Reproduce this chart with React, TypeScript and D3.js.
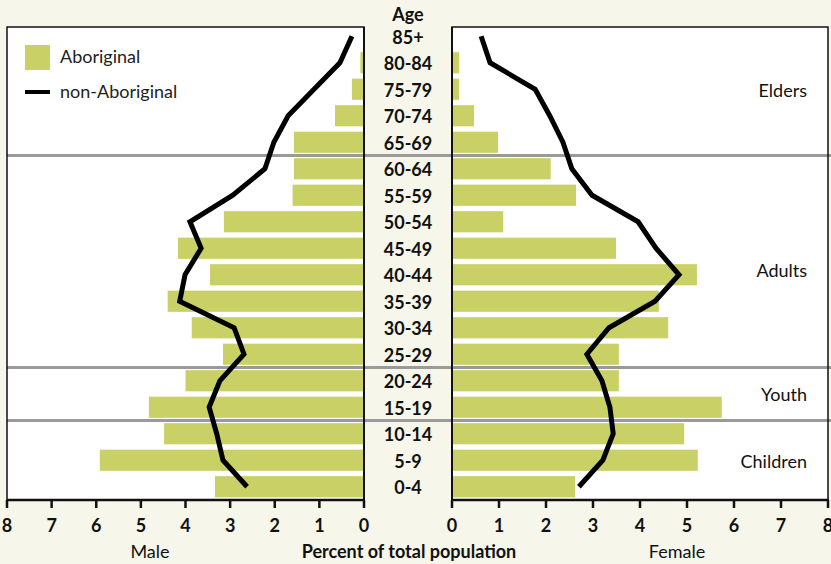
import * as d3 from 'd3'

const AGES = ['85+', '80-84', '75-79', '70-74', '65-69', '60-64', '55-59', '50-54', '45-49', '40-44', '35-39', '30-34', '25-29', '20-24', '15-19', '10-14', '5-9', '0-4']

const maleAboriginal = [0, 0.08, 0.27, 0.65, 1.57, 1.57, 1.6, 3.14, 4.17, 3.45, 4.4, 3.86, 3.16, 4.0, 4.82, 4.48, 5.92, 3.34]
const maleNonAboriginal = [0.27, 0.54, 1.12, 1.7, 2.02, 2.22, 2.94, 3.9, 3.65, 4.01, 4.13, 2.91, 2.69, 3.23, 3.47, 3.3, 3.16, 2.62]
const femaleAboriginal = [0, 0.15, 0.15, 0.47, 0.98, 2.1, 2.64, 1.09, 3.49, 5.21, 4.4, 4.6, 3.55, 3.55, 5.74, 4.94, 5.23, 2.62]
const femaleNonAboriginal = [0.62, 0.81, 1.77, 2.08, 2.36, 2.55, 2.98, 3.96, 4.34, 4.83, 4.32, 3.34, 2.87, 3.19, 3.36, 3.43, 3.21, 2.7]

const TICKS = [0, 1, 2, 3, 4, 5, 6, 7, 8]
// label = group name, last = last age row of the group, at = rows the label sits between
const GROUPS = [
  { label: 'Elders', last: '65-69', at: ['75-79', '75-79'] },
  { label: 'Adults', last: '25-29', at: ['40-44', '40-44'] },
  { label: 'Youth', last: '15-19', at: ['20-24', '15-19'] },
  { label: 'Children', last: '0-4', at: ['5-9', '5-9'] },
]

const W = 831
const H = 564
const TOP = 27
const BOTTOM = 500
const L = { x0: 7, x1: 364 }
const R = { x0: 452, x1: 828 }
const BAR = '#c9d166'
const FONT = 'Lato, "Open Sans", sans-serif'

export default function App() {
  const y = d3.scaleBand<string>().domain(AGES).range([BOTTOM - 18 * 26.5, BOTTOM]).paddingInner(0.2).paddingOuter(0.1)
  const xl = d3.scaleLinear().domain([0, 8]).range([L.x1, L.x0])
  const xr = d3.scaleLinear().domain([0, 8]).range([R.x0, R.x1])
  const cy = (a: string) => (y(a) ?? 0) + y.bandwidth() / 2

  const lineL = d3.line<number>().x(d => xl(d)).y((_, i) => cy(AGES[i]))
  const lineR = d3.line<number>().x(d => xr(d)).y((_, i) => cy(AGES[i]))

  const seps = GROUPS.slice(0, -1).map(g => cy(g.last) + y.step() / 2)
  const mid = (L.x1 + R.x0) / 2

  return (
    <svg width={W} height={H} style={{ position: 'absolute', left: 0, top: 0, background: '#f6f6ea', fontFamily: FONT }}>
      <rect x={0} y={0} width={W} height={H} fill="#f6f6ea" />
      <rect x={L.x0} y={TOP} width={L.x1 - L.x0} height={BOTTOM - TOP} fill="#fff" />
      <rect x={R.x0} y={TOP} width={R.x1 - R.x0} height={BOTTOM - TOP} fill="#fff" />

      {seps.map((s, i) => (
        <line key={i} x1={L.x0} x2={W} y1={s} y2={s} stroke="#9a9a9a" strokeWidth={3} />
      ))}

      {AGES.map((a, i) => (
        <g key={a}>
          {maleAboriginal[i] > 0 && (
            <rect x={xl(maleAboriginal[i])} y={y(a)} width={xl(0) - xl(maleAboriginal[i])} height={y.bandwidth()} fill={BAR} />
          )}
          {femaleAboriginal[i] > 0 && (
            <rect x={xr(0)} y={y(a)} width={xr(femaleAboriginal[i]) - xr(0)} height={y.bandwidth()} fill={BAR} />
          )}
          <text x={mid} y={cy(a) + 1} dy="0.35em" textAnchor="middle" fontSize={18} fontWeight={700} fill="#111">{a}</text>
        </g>
      ))}
      <text x={mid} y={15} dy="0.35em" textAnchor="middle" fontSize={18} fontWeight={700} fill="#111">Age</text>

      <path d={lineL(maleNonAboriginal) ?? ''} fill="none" stroke="#000" strokeWidth={5} />
      <path d={lineR(femaleNonAboriginal) ?? ''} fill="none" stroke="#000" strokeWidth={5} />

      {/* frames */}
      <rect x={L.x0} y={TOP} width={L.x1 - L.x0} height={BOTTOM - TOP} fill="none" stroke="#111" strokeWidth={1.5} />
      <rect x={R.x0} y={TOP} width={R.x1 - R.x0} height={BOTTOM - TOP} fill="none" stroke="#111" strokeWidth={1.5} />
      <line x1={L.x0} x2={L.x1 + 1} y1={BOTTOM} y2={BOTTOM} stroke="#111" strokeWidth={2.5} />
      <line x1={R.x0 - 1} x2={R.x1 + 1} y1={BOTTOM} y2={BOTTOM} stroke="#111" strokeWidth={2.5} />
      <line x1={L.x1} x2={L.x1} y1={TOP} y2={BOTTOM} stroke="#111" strokeWidth={2} />
      <line x1={R.x0} x2={R.x0} y1={TOP} y2={BOTTOM} stroke="#111" strokeWidth={2} />

      {TICKS.map(t => (
        <g key={t}>
          <line x1={xl(t)} x2={xl(t)} y1={BOTTOM} y2={BOTTOM + 8} stroke="#111" strokeWidth={2.5} />
          <text x={xl(t)} y={526} dy="0.35em" textAnchor="middle" fontSize={18} fontWeight={700} fill="#111">{t}</text>
          <line x1={xr(t)} x2={xr(t)} y1={BOTTOM} y2={BOTTOM + 8} stroke="#111" strokeWidth={2.5} />
          <text x={xr(t)} y={526} dy="0.35em" textAnchor="middle" fontSize={18} fontWeight={700} fill="#111">{t}</text>
        </g>
      ))}

      <text x={150} y={552} dy="0.35em" textAnchor="middle" fontSize={18} fill="#111">Male</text>
      <text x={409} y={552} dy="0.35em" textAnchor="middle" fontSize={18} fontWeight={700} fill="#111">Percent of total population</text>
      <text x={677} y={552} dy="0.35em" textAnchor="middle" fontSize={18} fill="#111">Female</text>

      {/* group labels */}
      {GROUPS.map(g => (
        <text key={g.label} x={807} y={(cy(g.at[0]) + cy(g.at[1])) / 2 + (g.label === 'Adults' ? -4 : 1)} dy="0.35em" textAnchor="end" fontSize={18} fill="#111">{g.label}</text>
      ))}

      {/* legend */}
      <rect x={25} y={45} width={25} height={25} fill={BAR} />
      <text x={60} y={57} dy="0.35em" fontSize={18} fill="#222">Aboriginal</text>
      <line x1={25} x2={50} y1={92} y2={92} stroke="#000" strokeWidth={4} />
      <text x={60} y={92} dy="0.35em" fontSize={18} fill="#222">non-Aboriginal</text>
    </svg>
  )
}
